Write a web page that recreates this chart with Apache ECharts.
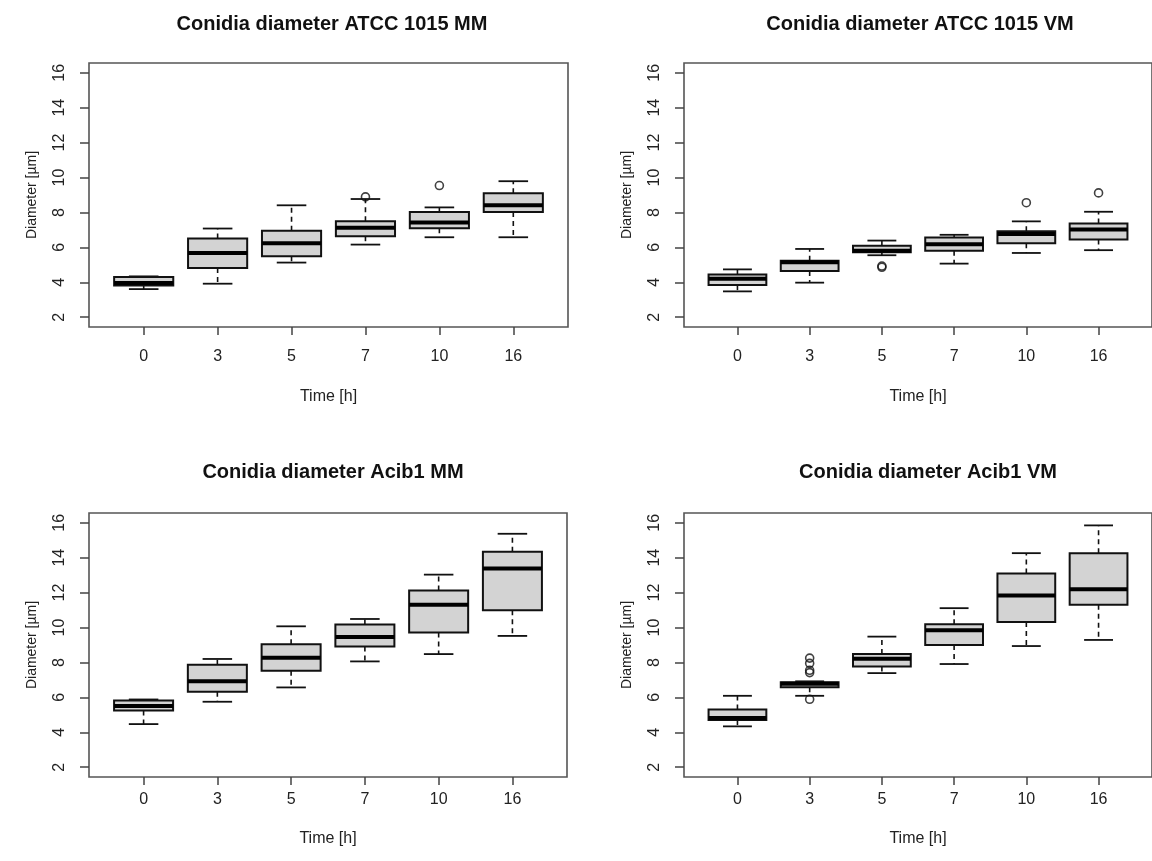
<!DOCTYPE html>
<html>
<head>
<meta charset="utf-8">
<script src="https://cdn.jsdelivr.net/npm/echarts@6/dist/echarts.min.js"></script>
<style>
html,body{margin:0;padding:0;background:#fff;}
#chart{width:1152px;height:861px;}
</style>
</head>
<body>
<div id="chart"></div>
<script>
// ---- data ----
const timeLabels = ['0', '3', '5', '7', '10', '16'];
const yTicks = [2, 4, 6, 8, 10, 12, 14, 16];
const titles = [
  'Conidia diameter ATCC 1015 MM',
  'Conidia diameter ATCC 1015 VM',
  'Conidia diameter Acib1 MM',
  'Conidia diameter Acib1 VM'
];
// each row: [min, Q1, median, Q3, max]
const atccMM = [
  [3.61, 3.82, 3.96, 4.30, 4.34],
  [3.92, 4.82, 5.68, 6.51, 7.08],
  [5.13, 5.49, 6.24, 6.95, 8.41],
  [6.16, 6.64, 7.12, 7.49, 8.77],
  [6.58, 7.10, 7.43, 8.02, 8.29],
  [6.58, 8.02, 8.41, 9.10, 9.79]
];
const atccMMOut = [[3, 8.89], [4, 9.54]];
const atccVM = [
  [3.48, 3.84, 4.21, 4.45, 4.74],
  [3.98, 4.65, 5.15, 5.24, 5.91],
  [5.55, 5.72, 5.80, 6.09, 6.39],
  [5.07, 5.80, 6.18, 6.56, 6.72],
  [5.68, 6.24, 6.76, 6.93, 7.49],
  [5.84, 6.45, 7.02, 7.37, 8.04]
];
const atccVMOut = [[2, 4.93], [2, 4.86], [4, 8.56], [5, 9.12]];
const acibMM = [
  [4.47, 5.25, 5.50, 5.82, 5.88],
  [5.75, 6.32, 6.93, 7.87, 8.20],
  [6.57, 7.53, 8.27, 9.04, 10.07],
  [8.06, 8.92, 9.46, 10.17, 10.49],
  [8.48, 9.71, 11.31, 12.12, 13.03],
  [9.52, 10.99, 13.38, 14.34, 15.37]
];
const acibMMOut = [];
const acibVM = [
  [4.34, 4.70, 4.82, 5.30, 6.09],
  [6.09, 6.58, 6.78, 6.87, 6.92],
  [7.39, 7.77, 8.21, 8.48, 9.48],
  [7.91, 9.00, 9.84, 10.19, 11.11],
  [8.94, 10.32, 11.84, 13.10, 14.26],
  [9.29, 11.30, 12.20, 14.26, 15.85]
];
const acibVMOut = [[1, 8.25], [1, 7.95], [1, 7.55], [1, 7.42], [1, 5.89]];

// ---- layout ----
const panels = [
  {box: atccMM, out: atccMMOut, grid: {left: 89, top: 63, width: 479, height: 264}, titleX: 327, titleY: 9, lblMargin: 22, nameGap: 62},
  {box: atccVM, out: atccVMOut, grid: {left: 684, top: 63, width: 479, height: 264}, titleX: 915, titleY: 9, lblMargin: 22, nameGap: 62},
  {box: acibMM, out: acibMMOut, grid: {left: 89, top: 513, width: 478, height: 264}, titleX: 328, titleY: 457, lblMargin: 15, nameGap: 54},
  {box: acibVM, out: acibVMOut, grid: {left: 684, top: 513, width: 479, height: 264}, titleX: 923, titleY: 457, lblMargin: 15, nameGap: 54}
];

const FONT = 'Liberation Sans, Arial, sans-serif';
const catPos = timeLabels.map((_, i) => i + 1);

function renderBox(params, api) {
  const x = api.value(0);
  const lo = api.coord([x, api.value(1)]);
  const q1 = api.coord([x, api.value(2)]);
  const md = api.coord([x, api.value(3)]);
  const q3 = api.coord([x, api.value(4)]);
  const hi = api.coord([x, api.value(5)]);
  const w = api.size([0.8, 0])[0];
  const sw = w / 2;
  const cx = md[0];
  const dash = {stroke: '#111', lineWidth: 1.6, lineDash: [5, 4]};
  const solid = {stroke: '#111', lineWidth: 1.8};
  return {
    type: 'group',
    children: [
      {type: 'line', shape: {x1: cx, y1: q3[1], x2: cx, y2: hi[1]}, style: dash},
      {type: 'line', shape: {x1: cx, y1: q1[1], x2: cx, y2: lo[1]}, style: dash},
      {type: 'line', shape: {x1: cx - sw / 2, y1: hi[1], x2: cx + sw / 2, y2: hi[1]}, style: solid},
      {type: 'line', shape: {x1: cx - sw / 2, y1: lo[1], x2: cx + sw / 2, y2: lo[1]}, style: solid},
      {type: 'rect', shape: {x: cx - w / 2, y: q3[1], width: w, height: q1[1] - q3[1]},
        style: {fill: '#d3d3d3', stroke: '#111', lineWidth: 2}},
      {type: 'line', shape: {x1: cx - w / 2, y1: md[1], x2: cx + w / 2, y2: md[1]},
        style: {stroke: '#000', lineWidth: 4}}
    ]
  };
}

const option = {
  backgroundColor: '#fff',
  animation: false,
  title: [], grid: [], xAxis: [], yAxis: [], series: []
};

panels.forEach((p, i) => {
  option.title.push({
    text: titles[i], left: p.titleX, top: p.titleY, textAlign: 'center',
    textStyle: {fontFamily: FONT, fontSize: 20, fontWeight: 'bold', color: '#111'}
  });
  option.grid.push(Object.assign({show: true, borderColor: '#555', borderWidth: 1.6, backgroundColor: 'transparent', containLabel: false}, p.grid));
  option.xAxis.push({
    type: 'value', gridIndex: i, min: 0.26, max: 6.74,
    name: 'Time [h]', nameLocation: 'middle', nameGap: p.nameGap,
    nameTextStyle: {fontFamily: FONT, fontSize: 16, color: '#222'},
    axisLine: {show: false},
    splitLine: {show: false},
    axisTick: {show: true, customValues: catPos, length: 8, inside: false, lineStyle: {color: '#444', width: 1.5}},
    axisLabel: {customValues: catPos, formatter: v => timeLabels[Math.round(v) - 1], margin: p.lblMargin,
      fontFamily: FONT, fontSize: 16, color: '#222'}
  });
  option.yAxis.push({
    type: 'value', gridIndex: i, min: 1.44, max: 16.56,
    name: 'Diameter [µm]', nameLocation: 'middle', nameGap: 50, nameRotate: 90,
    nameTextStyle: {fontFamily: FONT, fontSize: 14, color: '#222'},
    axisLine: {show: false},
    splitLine: {show: false},
    axisTick: {show: true, customValues: yTicks, length: 9, inside: false, lineStyle: {color: '#444', width: 1.5}},
    axisLabel: {customValues: yTicks, rotate: 90, margin: 21, fontFamily: FONT, fontSize: 16, color: '#222'}
  });
  option.series.push({
    type: 'custom', xAxisIndex: i, yAxisIndex: i,
    renderItem: renderBox,
    encode: {x: 0, y: [1, 2, 3, 4, 5]},
    data: p.box.map((r, k) => [k + 1].concat(r)),
    clip: false
  });
  option.series.push({
    type: 'scatter', xAxisIndex: i, yAxisIndex: i,
    symbol: 'circle', symbolSize: 8,
    itemStyle: {color: 'rgba(0,0,0,0)', borderColor: '#111', borderWidth: 1.6},
    data: p.out.map(o => [o[0] + 1, o[1]])
  });
});

const chart = echarts.init(document.getElementById('chart'), null, {renderer: 'canvas'});
chart.setOption(option);
</script>
</body>
</html>
